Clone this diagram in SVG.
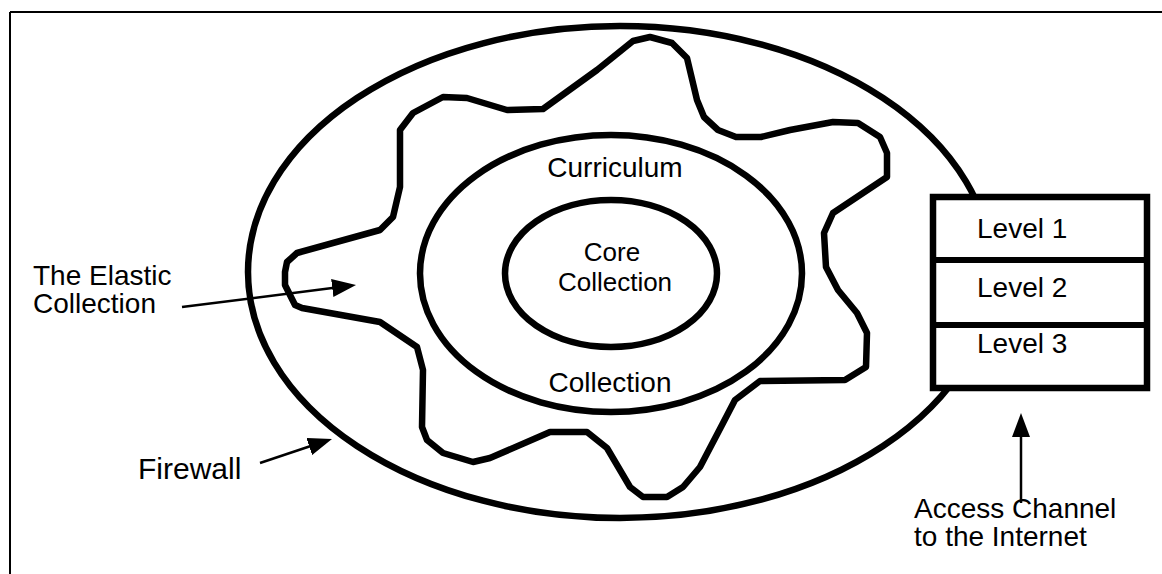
<svg xmlns="http://www.w3.org/2000/svg" width="1162" height="574" viewBox="0 0 1162 574">
  <style>
    .frame { fill: none; stroke: #000; stroke-width: 2; }
    .ring { fill: none; stroke: #000; stroke-width: 6.5; }
    .blob { fill: none; stroke: #000; stroke-width: 6.5; stroke-linejoin: round; }
    .box { fill: #fff; stroke: #000; stroke-width: 6.5; }
    .rule { stroke: #000; stroke-width: 6; }
    .pointer { fill: none; stroke: #000; stroke-width: 2.5; }
    .label { font-family: "Liberation Sans", Arial, Helvetica, sans-serif; font-size: 28px; fill: #000; }
    .core { font-size: 26px; }
    .mid { text-anchor: middle; }
  </style>
  <defs>
    <marker id="head" markerUnits="userSpaceOnUse" markerWidth="24" markerHeight="18" refX="4" refY="9" orient="auto">
      <path d="M0,0 L24,9 L0,18 z" fill="#000"/>
    </marker>
  </defs>

  <rect width="1162" height="574" fill="#fff"/>

  <!-- page frame (top and left edges) -->
  <g id="frame">
    <line class="frame" x1="10" y1="12" x2="1162" y2="12"/>
    <line class="frame" x1="10" y1="12" x2="10" y2="574"/>
  </g>

  <!-- firewall boundary -->
  <g id="firewall">
    <ellipse class="ring" cx="620" cy="272" rx="372" ry="246"/>
  </g>

  <!-- elastic collection outline -->
  <g id="elastic-collection">
    <path class="blob" d="M285,272 L287,262 L297,253 L380,230 L393,217 L400,187 L400,130 L413,113 L443,97 L467,98 L507,110 L543,109 L597,70 L633,41 L650,37 L672,43 L687,58 L697,100 L704,117 L718,130 L736,137 L761,137 L790,130 L833,122 L858,123 L880,137 L887,153 L887,177 L872,187 L833,213 L824,233 L826,267 L838,290 L857,313 L867,333 L866,367 L845,380 L760,381 L735,400 L722,425 L700,467 L683,487 L667,497 L643,497 L630,487 L607,448 L587,432 L550,432 L490,458 L473,462 L443,453 L427,440 L422,427 L423,370 L417,347 L380,322 L302,308 L295,305 L285,285 Z"/>
  </g>

  <!-- curriculum collection ring -->
  <g id="curriculum-collection">
    <ellipse class="ring" cx="611" cy="273.5" rx="191" ry="138.5"/>
    <text class="label mid" x="615" y="177">Curriculum</text>
    <text class="label mid" x="610" y="392">Collection</text>
  </g>

  <!-- core collection -->
  <g id="core-collection">
    <ellipse class="ring" cx="611" cy="273.5" rx="106" ry="73.5"/>
    <text class="label core mid" x="612" y="261">Core</text>
    <text class="label core mid" x="615" y="291">Collection</text>
  </g>

  <!-- access levels -->
  <g id="access-levels">
    <rect class="box" x="933" y="197" width="214" height="191"/>
    <line class="rule" x1="933" y1="260" x2="1147" y2="260"/>
    <line class="rule" x1="933" y1="325" x2="1147" y2="325"/>
    <text class="label" x="977" y="238">Level 1</text>
    <text class="label" x="977" y="297">Level 2</text>
    <text class="label" x="977" y="353">Level 3</text>
  </g>

  <!-- callout labels -->
  <g id="label-elastic">
    <text class="label" x="33" y="285">The Elastic</text>
    <text class="label" x="33" y="313">Collection</text>
  </g>
  <g id="label-firewall">
    <text class="label" x="138" y="479" style="font-size:30px">Firewall</text>
  </g>
  <g id="label-access">
    <text class="label" x="914" y="518">Access Channel</text>
    <text class="label" x="914" y="546">to the Internet</text>
  </g>

  <!-- connectors -->
  <g id="connectors">
    <line class="pointer" x1="182" y1="307" x2="336.2" y2="287.5" marker-end="url(#head)"/>
    <line class="pointer" x1="260" y1="463" x2="313" y2="445.3" marker-end="url(#head)"/>
    <line class="pointer" x1="1021" y1="503" x2="1021" y2="433" marker-end="url(#head)"/>
  </g>
</svg>
